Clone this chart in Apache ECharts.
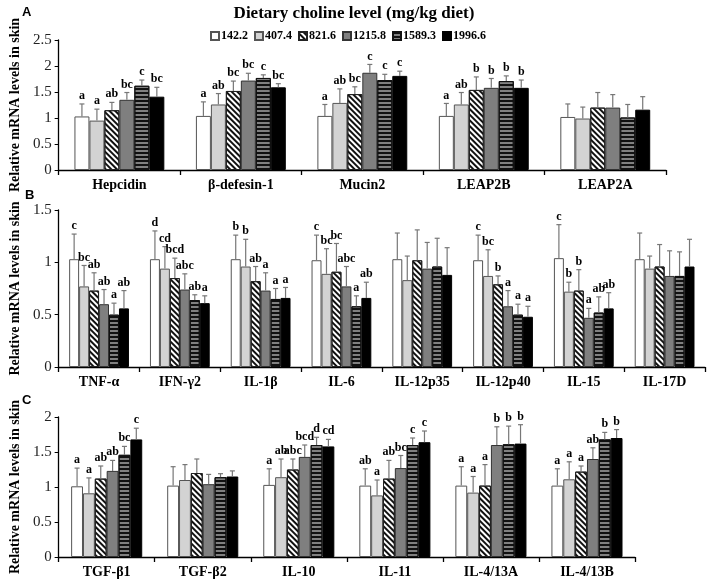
<!DOCTYPE html>
<html>
<head>
<meta charset="utf-8">
<script src="https://cdn.jsdelivr.net/npm/echarts@6/dist/echarts.min.js"></script>
<style>
  html, body { margin: 0; padding: 0; background: #fff; }
  #chart { width: 708px; height: 583px; }
</style>
</head>
<body>
<div id="chart"></div>
<script>
// choline levels (mg/kg diet)
var levels = ['142.2', '407.4', '821.6', '1215.8', '1589.3', '1996.6'];

// panel A
var aGenes = ['Hepcidin', 'β-defesin-1', 'Mucin2', 'LEAP2B', 'LEAP2A'];
var aMean = [
	[1.03, 0.95, 1.15, 1.35, 1.62, 1.41],
	[1.04, 1.26, 1.52, 1.72, 1.77, 1.59],
	[1.04, 1.29, 1.46, 1.87, 1.73, 1.81],
	[1.04, 1.26, 1.54, 1.58, 1.71, 1.58],
	[1.02, 0.99, 1.20, 1.20, 1.01, 1.16]
];
var aErr = [
	[0.24, 0.22, 0.15, 0.14, 0.11, 0.18],
	[0.27, 0.21, 0.19, 0.14, 0.06, 0.07],
	[0.22, 0.27, 0.14, 0.16, 0.11, 0.09],
	[0.24, 0.23, 0.25, 0.18, 0.10, 0.15],
	[0.25, 0.22, 0.29, 0.25, 0.25, 0.25]
];
var aLetters = [
	['a', 'a', 'ab', 'bc', 'c', 'bc'],
	['a', 'ab', 'bc', 'bc', 'c', 'bc'],
	['a', 'ab', 'bc', 'c', 'c', 'c'],
	['a', 'ab', 'b', 'b', 'b', 'b'],
	[]
];

// panel B
var bGenes = ['TNF-α', 'IFN-γ2', 'IL-1β', 'IL-6', 'IL-12p35', 'IL-12p40', 'IL-15', 'IL-17D'];
var bMean = [
	[1.03, 0.77, 0.73, 0.60, 0.50, 0.56],
	[1.03, 0.94, 0.85, 0.74, 0.64, 0.61],
	[1.03, 0.96, 0.82, 0.73, 0.65, 0.66],
	[1.02, 0.89, 0.91, 0.77, 0.58, 0.66],
	[1.03, 0.83, 1.02, 0.94, 0.96, 0.88],
	[1.02, 0.87, 0.79, 0.58, 0.50, 0.48],
	[1.04, 0.72, 0.73, 0.47, 0.52, 0.56],
	[1.03, 0.94, 0.96, 0.87, 0.87, 0.96]
];
var bErr = [
	[0.24, 0.20, 0.17, 0.14, 0.11, 0.17],
	[0.27, 0.21, 0.19, 0.15, 0.05, 0.07],
	[0.23, 0.26, 0.14, 0.17, 0.10, 0.10],
	[0.24, 0.24, 0.27, 0.19, 0.10, 0.15],
	[0.25, 0.23, 0.29, 0.25, 0.27, 0.26],
	[0.24, 0.25, 0.08, 0.15, 0.10, 0.10],
	[0.32, 0.09, 0.20, 0.09, 0.15, 0.15],
	[0.25, 0.12, 0.21, 0.24, 0.23, 0.26]
];
var bLetters = [
	['c', 'bc', 'ab', 'ab', 'a', 'ab'],
	['d', 'cd', 'bcd', 'abc', 'ab', 'a'],
	['b', 'b', 'ab', 'a', 'a', 'a'],
	['c', 'bc', 'bc', 'abc', 'a', 'ab'],
	[],
	['c', 'bc', 'b', 'a', 'a', 'a'],
	['c', 'b', 'b', 'a', 'ab', 'ab'],
	[]
];

// panel C
var cGenes = ['TGF-β1', 'TGF-β2', 'IL-10', 'IL-11', 'IL-4/13A', 'IL-4/13B'];
var cMean = [
	[1.01, 0.91, 1.12, 1.23, 1.46, 1.68],
	[1.02, 1.10, 1.20, 1.04, 1.14, 1.15],
	[1.03, 1.14, 1.25, 1.43, 1.60, 1.58],
	[1.02, 0.88, 1.12, 1.27, 1.60, 1.64],
	[1.02, 0.92, 1.02, 1.60, 1.61, 1.62],
	[1.02, 1.11, 1.22, 1.40, 1.68, 1.70]
];
var cErr = [
	[0.26, 0.22, 0.18, 0.15, 0.12, 0.16],
	[0.27, 0.22, 0.20, 0.14, 0.05, 0.08],
	[0.23, 0.26, 0.15, 0.17, 0.11, 0.10],
	[0.24, 0.22, 0.26, 0.18, 0.10, 0.16],
	[0.27, 0.23, 0.30, 0.26, 0.26, 0.27],
	[0.24, 0.25, 0.08, 0.16, 0.10, 0.12]
];
var cLetters = [
	['a', 'a', 'ab', 'ab', 'bc', 'c'],
	[],
	['a', 'ab', 'abc', 'bcd', 'd', 'cd'],
	['ab', 'a', 'ab', 'bc', 'c', 'c'],
	['a', 'a', 'a', 'b', 'b', 'b'],
	['a', 'a', 'a', 'ab', 'b', 'b']
];

var SERIF = '"Liberation Serif", "Times New Roman", serif';
var GAP = 0.26;

var barStyles = [
	{ color: '#ffffff', borderColor: '#555', borderWidth: 1 },
	{ color: '#d3d3d3', borderColor: '#555', borderWidth: 1 },
	{ color: '#ffffff', borderColor: '#222', borderWidth: 1,
	  decal: { symbol: 'rect', symbolSize: 1, color: '#111', dashArrayX: [1, 0], dashArrayY: [2, 2], rotation: Math.PI / 4 } },
	{ color: '#7f7f7f', borderColor: '#333', borderWidth: 1 },
	{ color: '#808080', borderColor: '#111', borderWidth: 1,
	  decal: { symbol: 'rect', symbolSize: 1, color: '#111', dashArrayX: [1, 0], dashArrayY: [2, 2], rotation: 0 } },
	{ color: '#000000', borderColor: '#000', borderWidth: 1 }
];

var grids = [
	{ left: 47, top: 40, width: 619, height: 130 },
	{ left: 50, top: 210, width: 655, height: 157 },
	{ left: 44, top: 417, width: 591, height: 140 }
];

function xAxisFor(idx, genes) {
	return {
		type: 'category', gridIndex: idx, data: genes,
		axisLine: { lineStyle: { color: '#000', width: 1.3 } },
		axisTick: { show: true, length: 5, lineStyle: { color: '#000', width: 1.3 } },
		axisLabel: { color: '#000', fontFamily: SERIF, fontWeight: 'bold', fontSize: 14, margin: 8 }
	};
}
function yAxisFor(idx, max, gap) {
	return {
		type: 'value', gridIndex: idx, min: 0, max: max, interval: 0.5,
		name: 'Relative mRNA levels in skin', nameLocation: 'middle', nameGap: gap,
		nameTextStyle: { color: '#000', fontFamily: SERIF, fontWeight: 'bold', fontSize: 14 },
		axisLine: { show: true, lineStyle: { color: '#000', width: 1.3 } },
		axisTick: { show: true, length: 4, lineStyle: { color: '#000' } },
		splitLine: { show: false },
		axisLabel: { color: '#222', fontFamily: SERIF, fontSize: 15, margin: 7 }
	};
}

var series = [];
function addPanel(idx, genes, mean, err, letters) {
	for (var s = 0; s < levels.length; s++) {
		var vals = [];
		for (var g = 0; g < genes.length; g++) vals.push(mean[g][s]);
		series.push({
			name: levels[s], type: 'bar', xAxisIndex: idx, yAxisIndex: idx,
			barGap: '0%', barCategoryGap: (GAP * 100) + '%',
			itemStyle: barStyles[s], data: vals, silent: true
		});
	}
	var errData = [];
	for (var g = 0; g < genes.length; g++) {
		for (var s = 0; s < levels.length; s++) {
			errData.push([g, mean[g][s] + err[g][s], s, mean[g][s]]);
		}
	}
	series.push({
		type: 'custom', xAxisIndex: idx, yAxisIndex: idx, silent: true, z: 5,
		encode: { x: 0, y: 1 },
		data: errData,
		renderItem: function (params, api) {
			var c = api.value(0), top = api.value(1), s = api.value(2), m = api.value(3);
			var band = api.size([1, 0])[0];
			var gw = band * (1 - GAP), bw = gw / 6;
			var base = api.coord([c, m]);
			var x = base[0] - gw / 2 + bw * (s + 0.5);
			var yTop = api.coord([c, top])[1];
			var children = [
				{ type: 'line', shape: { x1: x, y1: base[1], x2: x, y2: yTop }, style: { stroke: '#777', lineWidth: 1.2 } },
				{ type: 'line', shape: { x1: x - 2.5, y1: yTop, x2: x + 2.5, y2: yTop }, style: { stroke: '#777', lineWidth: 1.2 } }
			];
			var lab = letters[c][s];
			if (lab) {
				children.push({
					type: 'text', x: x, y: yTop - 2,
					style: { text: lab, fill: '#000', font: 'bold 12px ' + SERIF, align: 'center', verticalAlign: 'bottom' }
				});
			}
			return { type: 'group', children: children };
		}
	});
}
addPanel(0, aGenes, aMean, aErr, aLetters);
addPanel(1, bGenes, bMean, bErr, bLetters);
addPanel(2, cGenes, cMean, cErr, cLetters);

var chart = echarts.init(document.getElementById('chart'), null, { renderer: 'canvas' });
chart.setOption({
	animation: false,
	backgroundColor: '#fff',
	title: {
		text: 'Dietary choline level (mg/kg diet)', left: 'center', top: 0,
		textStyle: { fontFamily: SERIF, fontWeight: 'bold', fontSize: 17, color: '#000' }
	},
	legend: {
		data: levels, left: 205, top: 25, icon: 'rect', itemWidth: 8, itemHeight: 8, itemGap: 6,
		selectedMode: false,
		textStyle: { fontFamily: SERIF, fontWeight: 'bold', fontSize: 12, color: '#000', padding: [0, 0, 0, -3] }
	},
	graphic: [
		{ type: 'text', left: 22, top: 6, style: { text: 'A', font: 'bold 13px "Liberation Sans", Arial, sans-serif', fill: '#000' } },
		{ type: 'text', left: 25, top: 189, style: { text: 'B', font: 'bold 13px "Liberation Sans", Arial, sans-serif', fill: '#000' } },
		{ type: 'text', left: 22, top: 394, style: { text: 'C', font: 'bold 13px "Liberation Sans", Arial, sans-serif', fill: '#000' } }
	],
	grid: grids,
	xAxis: [xAxisFor(0, aGenes), xAxisFor(1, bGenes), xAxisFor(2, cGenes)],
	yAxis: [yAxisFor(0, 2.5, 28), yAxisFor(1, 1.5, 31), yAxisFor(2, 2, 25)],
	series: series
});
</script>
</body>
</html>
